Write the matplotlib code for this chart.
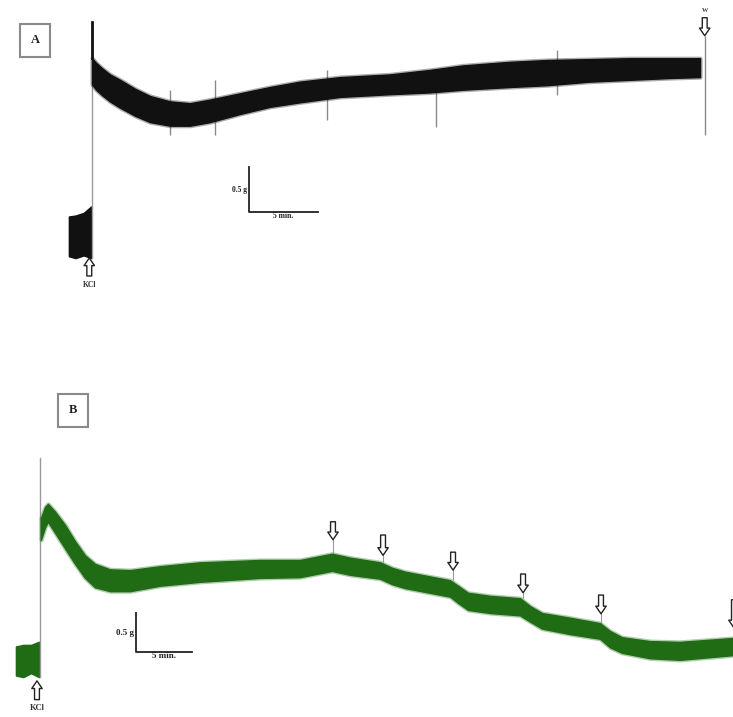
import matplotlib
matplotlib.use("Agg")
import matplotlib.pyplot as plt

# ---------------- Panel A (black trace) : time in min, tension in g ----------------
a_base_time = [-1.67, -1.2, -0.6, -0.07]
a_base_upper = [0.46, 0.47, 0.50, 0.57]
a_base_lower = [0.02, 0.00, 0.03, 0.00]
a_spike_time = 0.0
a_spike_peak = 2.62
a_time = [0.0, 0.29, 0.72, 1.30, 2.03, 3.12, 4.20, 5.65, 7.10, 8.55, 10.72, 12.90,
          15.07, 17.97, 21.59, 24.49, 26.88, 30.29, 32.97, 36.09, 38.99, 41.88, 44.06]
a_upper = [2.22, 2.17, 2.11, 2.04, 1.98, 1.88, 1.80, 1.74, 1.72, 1.76, 1.83, 1.90,
           1.96, 2.01, 2.04, 2.09, 2.14, 2.18, 2.20, 2.21, 2.22, 2.22, 2.22]
a_lower = [1.93, 1.87, 1.81, 1.74, 1.67, 1.58, 1.51, 1.47, 1.47, 1.51, 1.60, 1.68,
           1.73, 1.79, 1.82, 1.84, 1.87, 1.90, 1.92, 1.96, 1.98, 2.00, 2.01]
a_artifact_time = [5.65, 8.9, 17.0, 24.9, 33.7, 44.4]
a_artifact_top = [1.87, 1.98, 2.09, 1.90, 2.31, 2.47]
a_artifact_bottom = [1.37, 1.37, 1.53, 1.46, 1.81, 1.37]
a_wash_time = [44.4]
a_wash_tip = [2.47]
a_wash_tail = [2.67]
a_kcl_time = -0.2
a_kcl_tip, a_kcl_tail = 0.0, -0.2
a_scale_time, a_scale_g = 11.38, 0.51

# ---------------- Panel B (green trace) ----------------
b_base_time = [-2.14, -1.5, -0.8, -0.09]
b_base_upper = [0.39, 0.41, 0.41, 0.45]
b_base_lower = [0.02, 0.00, 0.05, 0.00]
b_spike_time = 0.0
b_spike_peak = 2.81
b_time = [0.09, 0.45, 0.71, 1.34, 2.23, 3.13, 4.02, 4.91, 6.25, 8.04, 10.71, 14.29,
          19.64, 23.21, 25.0, 26.07, 27.68, 30.36, 31.43, 32.59, 36.61, 37.32, 38.21,
          40.18, 42.86, 43.75, 44.82, 47.32, 50.0, 50.89, 51.96, 54.46, 57.14, 61.88]
b_upper = [2.04, 2.18, 2.22, 2.12, 1.95, 1.74, 1.56, 1.45, 1.38, 1.37, 1.42, 1.47,
           1.50, 1.50, 1.55, 1.58, 1.53, 1.47, 1.40, 1.35, 1.24, 1.17, 1.08,
           1.04, 1.01, 0.91, 0.82, 0.76, 0.69, 0.59, 0.51, 0.46, 0.45, 0.50]
b_lower = [1.76, 1.92, 1.99, 1.85, 1.65, 1.45, 1.27, 1.15, 1.10, 1.10, 1.17, 1.22,
           1.27, 1.28, 1.33, 1.36, 1.31, 1.26, 1.19, 1.14, 1.03, 0.95, 0.86,
           0.82, 0.79, 0.71, 0.62, 0.55, 0.49, 0.38, 0.31, 0.24, 0.22, 0.28]
b_arrow_time = [26.16, 30.63, 36.88, 43.13, 50.09, 61.96]
b_arrow_tip = [1.76, 1.56, 1.37, 1.08, 0.81, 0.63]
b_arrow_tail = [1.99, 1.82, 1.60, 1.32, 1.05, 0.99]
b_arrow_band = [1.56, 1.46, 1.24, 1.01, 0.69, 0.50]
b_kcl_time = -0.27
b_kcl_tip, b_kcl_tail = -0.05, -0.29
b_scale_time, b_scale_g = 8.57, 0.32

scale_dt, scale_dg = 5.0, 0.5

BLACK = "#111111"
GREEN = "#1f6c15"
SERIF = ["Liberation Serif", "DejaVu Serif"]

fig = plt.figure(figsize=(7.33, 7.17), dpi=100)
axA = fig.add_axes([0, 0.5816, 1, 0.4184])
axA.set_xlim(-6.67, 46.45)
axA.set_ylim(-0.467, 2.867)
axB = fig.add_axes([0, 0, 1, 0.5816])
axB.set_xlim(-3.571, 61.875)
axB.set_ylim(-0.513, 4.833)
for ax in (axA, axB):
    ax.axis("off")


def hollow_arrow(ax, x, tip, tail):
    ax.annotate("", xy=(x, tip), xytext=(x, tail),
                arrowprops=dict(arrowstyle="simple,head_length=0.55,head_width=0.75,tail_width=0.35",
                                fc="white", ec="#222222", lw=1.0, shrinkA=0, shrinkB=0),
                annotation_clip=False)


def draw_trace(ax, color, bt, bu, bl, st, sp, t, up, lo):
    ax.fill_between(bt, bl, bu, color=color, lw=1.2, ec=color)
    ax.plot([st, st], [0, sp], color="#9a9a9a", lw=1.0, zorder=1)
    ax.fill_between(t, lo, up, color=color, lw=3.0, ec=color, alpha=0.35, zorder=2)
    ax.fill_between(t, lo, up, color=color, lw=1.0, ec=color, zorder=3)


def scale_bar(ax, x0, y0, fs):
    ax.plot([x0, x0, x0 + scale_dt], [y0 + scale_dg, y0, y0], color="#222222", lw=1.3)
    ax.text(x0, y0 + scale_dg * 0.5, "0.5 g ", ha="right", va="center",
            fontsize=fs, fontweight="bold", family=SERIF, color="#222222")
    ax.text(x0 + scale_dt * 0.5, y0, "5 min.", ha="center", va="top",
            fontsize=fs, fontweight="bold", family=SERIF, color="#222222")


# ---- Panel A ----
draw_trace(axA, BLACK, a_base_time, a_base_upper, a_base_lower,
           a_spike_time, a_spike_peak, a_time, a_upper, a_lower)
axA.plot([a_spike_time, a_spike_time], [a_upper[0], a_spike_peak], color=BLACK, lw=2.0, zorder=4)
axA.vlines(a_artifact_time, a_artifact_bottom, a_artifact_top, color="#8a8a8a", lw=1.0, zorder=1)
for x, tip, tail in zip(a_wash_time, a_wash_tip, a_wash_tail):
    hollow_arrow(axA, x, tip, tail)
    axA.text(x, tail + 0.05, "W", ha="center", va="bottom", fontsize=4.5,
             fontweight="bold", family=SERIF, color="#444444")
hollow_arrow(axA, a_kcl_time, a_kcl_tip, a_kcl_tail)
axA.text(a_kcl_time, a_kcl_tail - 0.06, "KCl", ha="center", va="top", fontsize=5.5,
         fontweight="bold", family=SERIF, color="#333333")
scale_bar(axA, a_scale_time, a_scale_g, 5.5)
axA.text(-4.13, 2.42, "A", ha="center", va="center", fontsize=9, fontweight="bold",
         family=SERIF, color="#222222",
         bbox=dict(boxstyle="square,pad=0.85", fc="white", ec="#8a8a8a", lw=1.5))

# ---- Panel B ----
draw_trace(axB, GREEN, b_base_time, b_base_upper, b_base_lower,
           b_spike_time, b_spike_peak, b_time, b_upper, b_lower)
for x, tip, tail, band in zip(b_arrow_time, b_arrow_tip, b_arrow_tail, b_arrow_band):
    axB.plot([x, x], [band, tip], color="#9a9a9a", lw=0.8, zorder=2)
    hollow_arrow(axB, x, tip, tail)
hollow_arrow(axB, b_kcl_time, b_kcl_tip, b_kcl_tail)
axB.text(b_kcl_time, b_kcl_tail - 0.06, "KCl", ha="center", va="top", fontsize=6,
         fontweight="bold", family=SERIF, color="#333333")
scale_bar(axB, b_scale_time, b_scale_g, 6.5)
axB.text(2.95, 3.42, "B", ha="center", va="center", fontsize=9, fontweight="bold",
         family=SERIF, color="#222222",
         bbox=dict(boxstyle="square,pad=0.85", fc="white", ec="#8a8a8a", lw=1.5))

fig.savefig("out.png", dpi=100, facecolor="white")
